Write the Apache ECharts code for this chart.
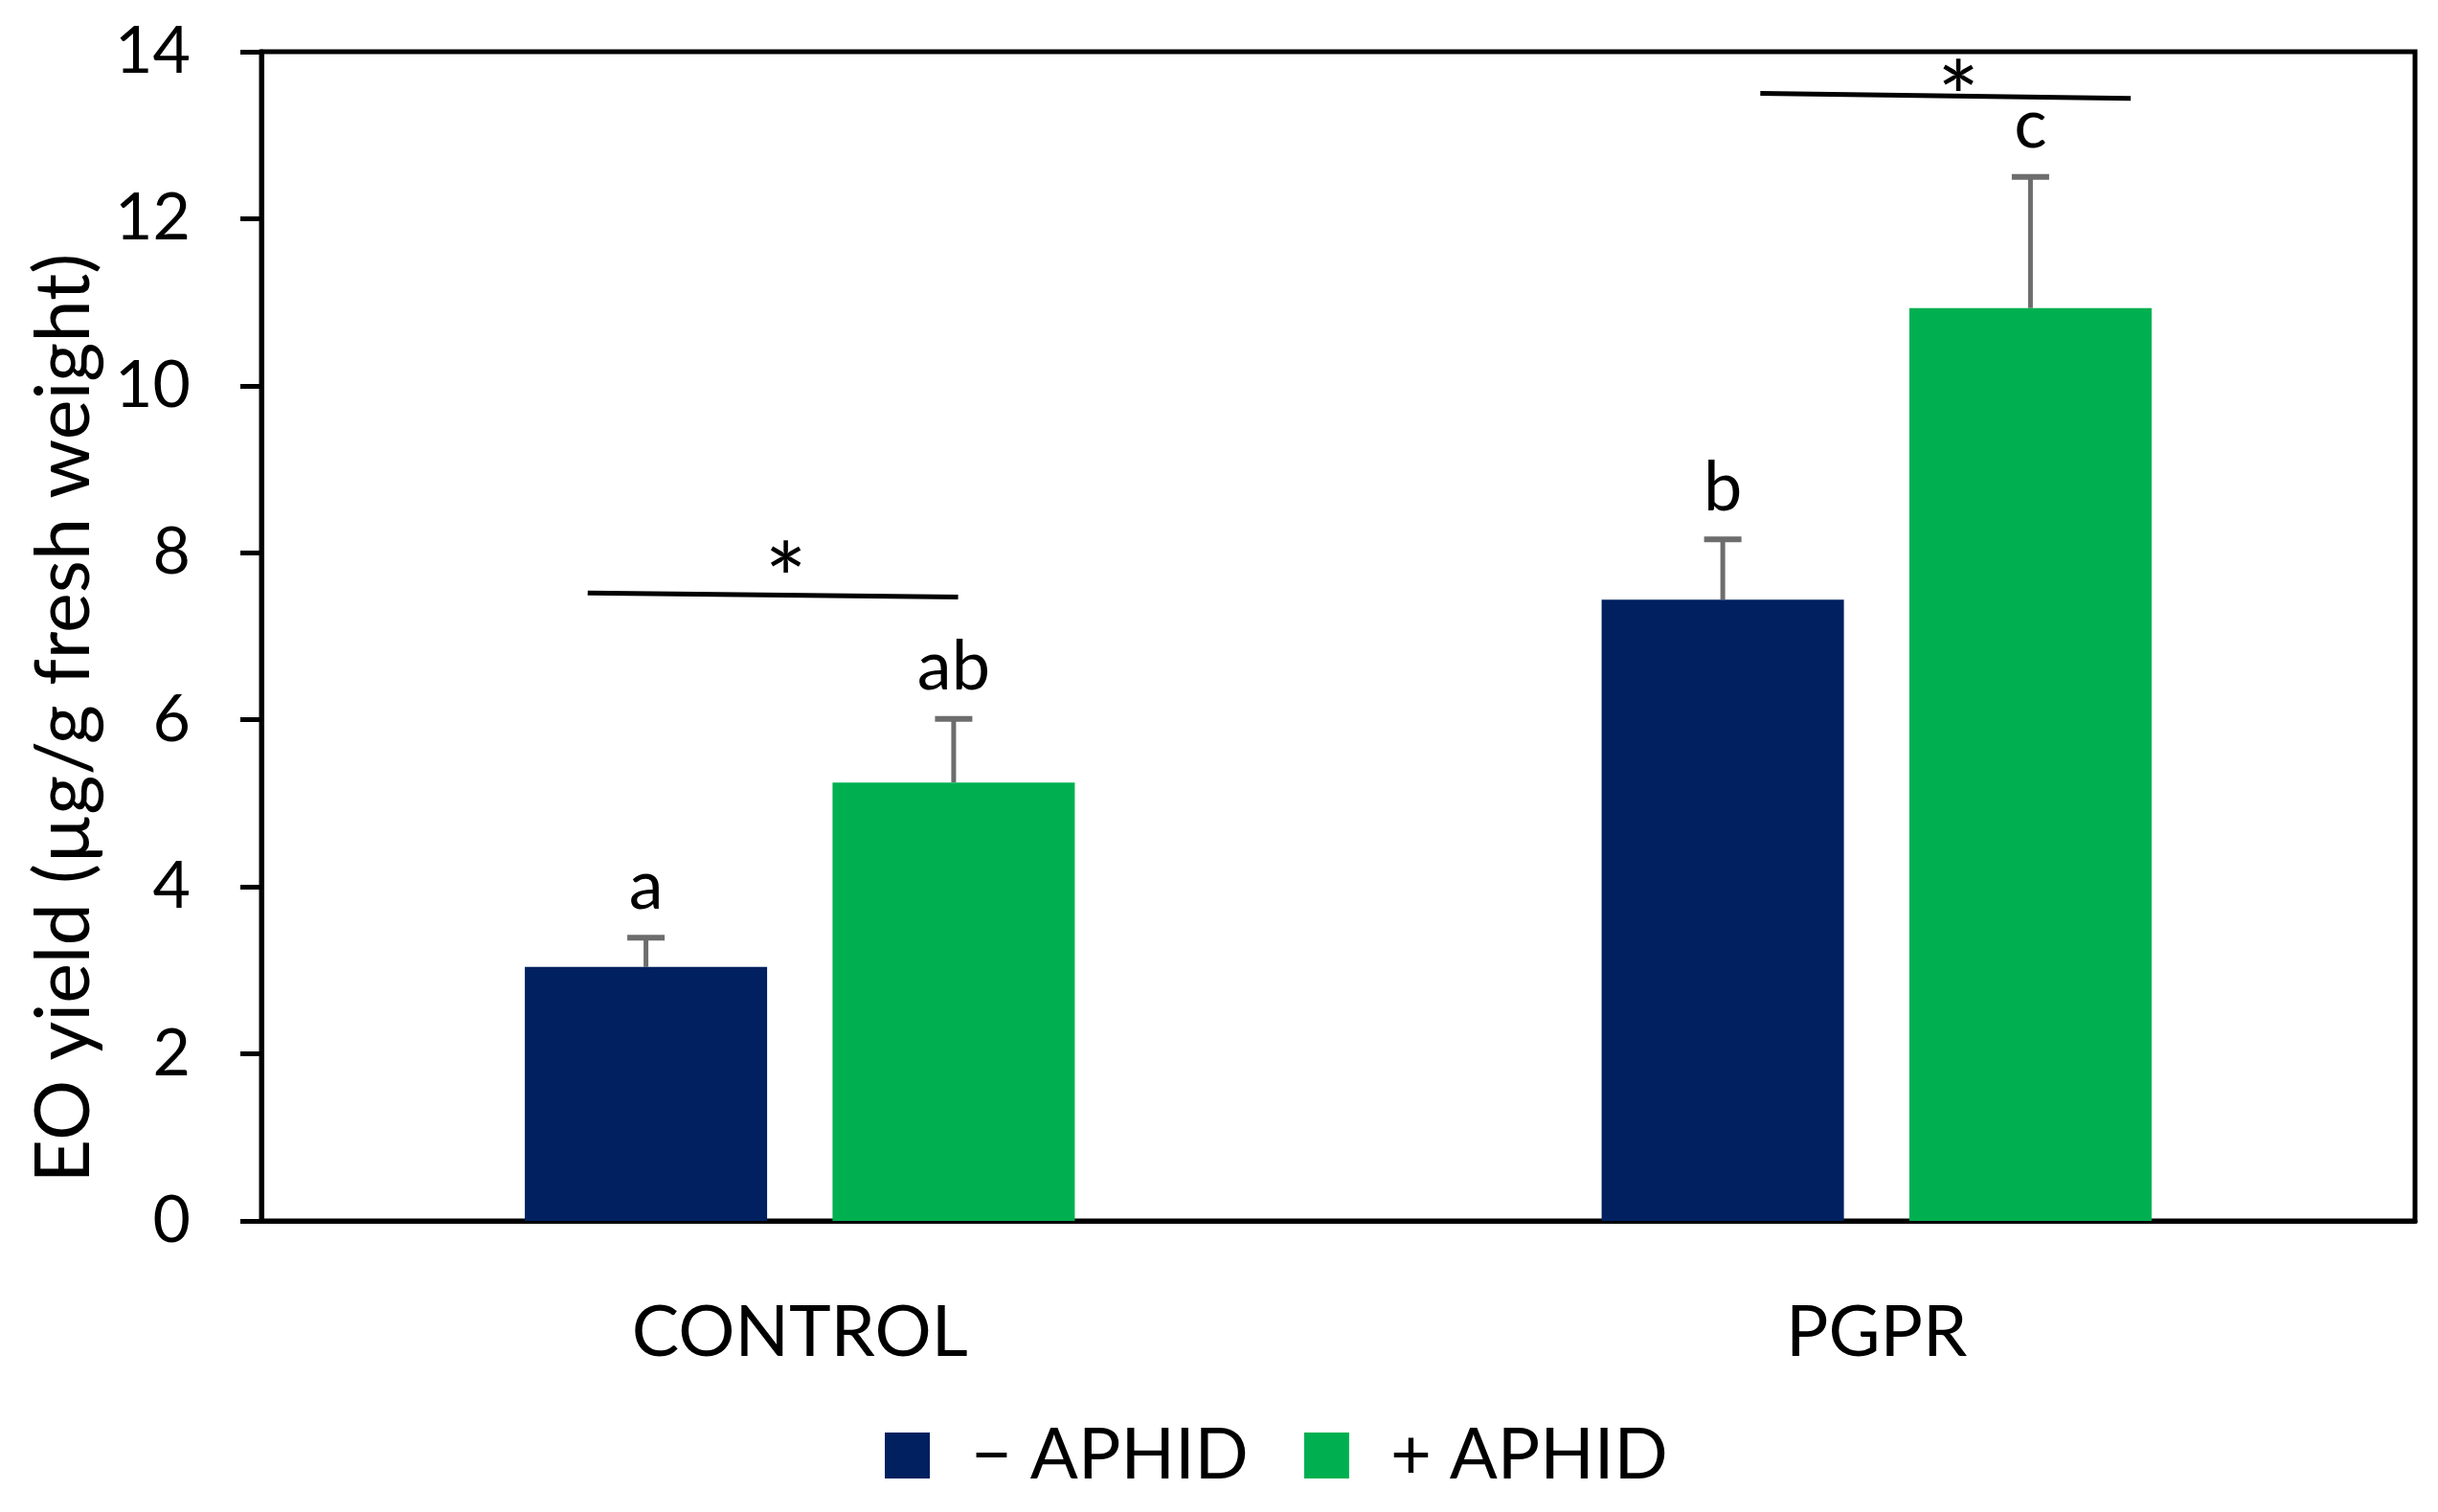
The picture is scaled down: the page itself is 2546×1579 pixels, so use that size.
<!DOCTYPE html>
<html>
<head>
<meta charset="utf-8">
<script src="https://cdn.jsdelivr.net/npm/echarts@6/dist/echarts.min.js"></script>
<style>html,body{margin:0;padding:0;background:#fff;}#c{width:2546px;height:1579px;}</style>
</head>
<body>
<div id="c"></div>
<script>
// ---- data ----
const categories = ['CONTROL', 'PGPR'];
const seriesNames = ['\u2212 APHID', '+ APHID'];
const minusAphid = [3.04, 7.44];
const plusAphid = [5.25, 10.93];
const minusAphidErr = [0.35, 0.72];
const plusAphidErr = [0.76, 1.57];
const minusAphidLetters = ['a', 'b'];
const plusAphidLetters = ['ab', 'c'];
const sigLineLevels = [[7.52, 7.47], [13.50, 13.44]]; // left/right y-value of significance bar per category
const sigMarks = ['*', '*'];
const yTicks = [0, 2, 4, 6, 8, 10, 12, 14];
const yTitle = 'EO yield (\u00b5g/g fresh weight)';

// ---- layout constants ----
const FONT = 'Lato';
const BAR_W = 0.225;   // fraction of band
const BAR_GAP = 0.27;  // fraction of bar width
const sigXFrac = [[-0.197, 0.147, -0.013], [-0.108, 0.236, 0.076]];
const sigStarLift = [40, 58];

const means = [minusAphid, plusAphid];
const errs = [minusAphidErr, plusAphidErr];
const letters = [minusAphidLetters, plusAphidLetters];

const errData = [];
for (let s = 0; s < 2; s++) for (let c = 0; c < categories.length; c++) {
  errData.push([c, means[s][c], means[s][c] + errs[s][c], s, letters[s][c]]);
}
const sigData = categories.map((_, c) => [c, sigLineLevels[c][0], sigLineLevels[c][1], sigMarks[c]]);

const chart = echarts.init(document.getElementById('c'), null, {renderer: 'canvas'});
chart.setOption({
  backgroundColor: '#fff',
  animation: false,
  textStyle: {fontFamily: FONT},
  grid: {left: 273, right: 24, top: 54, bottom: 304, show: true, borderColor: '#000', borderWidth: 5, backgroundColor: 'transparent'},
  legend: {
    left: 919, top: 1478,
    itemWidth: 47, itemHeight: 48, itemGap: 58,
    icon: 'rect',
    textStyle: {fontFamily: FONT, fontSize: 74, color: '#000', padding: [0, 0, 0, 38]},
    data: seriesNames
  },
  graphic: [{
    type: 'text', x: 68, y: 750, rotation: Math.PI / 2,
    style: {text: yTitle, font: '79px ' + FONT, fill: '#000', textAlign: 'center', textVerticalAlign: 'middle'}
  }],
  xAxis: {
    type: 'category', data: categories,
    axisLine: {show: true, lineStyle: {color: '#000', width: 5}},
    axisTick: {show: false},
    axisLabel: {fontFamily: FONT, fontSize: 74, color: '#000', margin: 80},
    splitLine: {show: false}
  },
  yAxis: {
    type: 'value', min: 0, max: 14, interval: 2,
    axisLine: {show: true, lineStyle: {color: '#000', width: 5}},
    axisTick: {show: true, inside: false, length: 22, lineStyle: {color: '#000', width: 5}},
    axisLabel: {fontFamily: FONT, fontSize: 68, color: '#000', margin: 74,
      formatter: v => yTicks.includes(v) ? String(v) : ''},
    splitLine: {show: false}
  },
  series: [
    {name: seriesNames[0], type: 'bar', data: minusAphid, barWidth: (BAR_W * 100) + '%', barGap: (BAR_GAP * 100) + '%',
      itemStyle: {color: '#002060'}, z: 2},
    {name: seriesNames[1], type: 'bar', data: plusAphid, barWidth: (BAR_W * 100) + '%', barGap: (BAR_GAP * 100) + '%',
      itemStyle: {color: '#00B050'}, z: 2},
    {
      type: 'custom', data: errData, z: 5,
      renderItem: function (params, api) {
        const c = api.value(0), s = api.value(3);
        const band = api.size([1, 0])[0];
        const bw = band * BAR_W, gap = bw * BAR_GAP;
        const off = (s === 0 ? -1 : 1) * (bw + gap) / 2;
        const pLow = api.coord([c, api.value(1)]);
        const pHigh = api.coord([c, api.value(2)]);
        const x = pLow[0] + off;
        const capHalf = 19.5;
        return {
          type: 'group', children: [
            {type: 'line', shape: {x1: x, y1: pLow[1], x2: x, y2: pHigh[1]}, style: {stroke: '#6d6d6d', lineWidth: 5}},
            {type: 'line', shape: {x1: x - capHalf, y1: pHigh[1], x2: x + capHalf, y2: pHigh[1]}, style: {stroke: '#6d6d6d', lineWidth: 6}},
            {type: 'text', style: {text: api.value(4), x: x, y: pHigh[1] - 18, textAlign: 'center', textVerticalAlign: 'bottom',
              font: '72px ' + FONT, fill: '#000'}}
          ]
        };
      }
    },
    {
      type: 'custom', data: sigData, z: 6,
      renderItem: function (params, api) {
        const c = api.value(0);
        const band = api.size([1, 0])[0];
        const fr = sigXFrac[c];
        const pL = api.coord([c, api.value(1)]);
        const pR = api.coord([c, api.value(2)]);
        const x1 = pL[0] + fr[0] * band, x2 = pR[0] + fr[1] * band;
        const xs = pL[0] + fr[2] * band;
        const t = (xs - x1) / (x2 - x1);
        const ys = pL[1] + t * (pR[1] - pL[1]);
        return {
          type: 'group', children: [
            {type: 'line', shape: {x1: x1, y1: pL[1], x2: x2, y2: pR[1]}, style: {stroke: '#000', lineWidth: 5}},
            {type: 'text', style: {text: api.value(3), x: xs, y: ys + sigStarLift[c], textAlign: 'center', textVerticalAlign: 'bottom',
              font: '104px ' + FONT, fill: '#000'}}
          ]
        };
      }
    }
  ]
});
</script>
</body>
</html>
